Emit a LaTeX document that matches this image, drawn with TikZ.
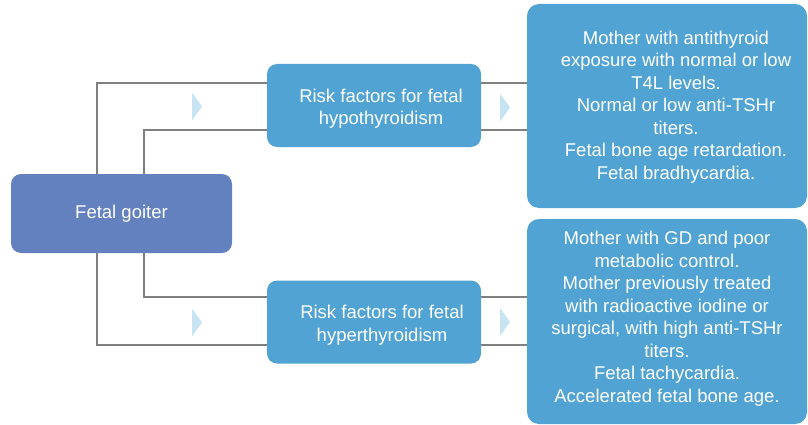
\documentclass[tikz,border=0pt]{standalone}
\usepackage{fontspec}
\setmainfont{Liberation Sans}
\usetikzlibrary{positioning,backgrounds}
\definecolor{goiterblue}{HTML}{6381BE}
\definecolor{riskblue}{HTML}{50A3D2}
\definecolor{markerblue}{HTML}{C7E4F3}
\definecolor{linkgray}{HTML}{808080}

\begin{document}
\begin{tikzpicture}[x=1pt, y=-1pt,
        goiternode/.style={rectangle, rounded corners=10pt, fill=goiterblue, text=white, minimum width=221pt, minimum height=79pt, inner sep=0pt, font=\fontsize{18.5}{22.5}\selectfont},
        risknode/.style={rectangle, rounded corners=10pt, fill=riskblue, minimum width=214pt, minimum height=83pt, inner sep=0pt},
        signnode/.style={rectangle, rounded corners=12pt, fill=riskblue, minimum width=280pt, minimum height=204pt, inner sep=0pt},
        boxtext/.style={text=white, align=center, font=\fontsize{18.5}{22.5}\selectfont, inner sep=0pt},
        link/.style={draw=linkgray, line width=2pt},
        marker/.style={fill=markerblue},
]
        \useasboundingbox (0,0) rectangle (808,425);

        \node[goiternode] (goiter) at (121.5,213.5) {Fetal goiter};
        \node[risknode] (hypo) at (374,105.5) {};
        \node[risknode] (hyper) at (374,322) {};
        \node[signnode] (hyposigns) at (667,106) {};
        \node[signnode, minimum height=205pt] (hypersigns) at (667,321.5) {};

        \node[boxtext] (hypotext) at ([xshift=7pt, yshift=-3pt]hypo.center) {Risk factors for fetal\\hypothyroidism};
        \node[boxtext] (hypertext) at ([xshift=8pt, yshift=-3pt]hyper.center) {Risk factors for fetal\\hyperthyroidism};
        \node[boxtext] (hyposignstext) at ([xshift=9pt, yshift=-1pt]hyposigns.center) {Mother with antithyroid\\exposure with normal or low\\T4L levels.\\Normal or low anti-TSHr\\titers.\\Fetal bone age retardation.\\Fetal bradhycardia.};
        \node[boxtext] (hypersignstext) at ([yshift=3pt]hypersigns.center) {Mother with GD and poor\\metabolic control.\\Mother previously treated\\with radioactive iodine or\\surgical, with high anti-TSHr\\titers.\\Fetal tachycardia.\\Accelerated fetal bone age.};

        \coordinate (outerup) at (97,83);
        \coordinate (innerup) at (144,130);
        \coordinate (innerdown) at (144,297);
        \coordinate (outerdown) at (97,345);

        \begin{scope}[on background layer]
        \draw[link] (goiter.north -| outerup) |- (hyposigns.west |- outerup);
        \draw[link] (goiter.north -| innerup) |- (hyposigns.west |- innerup);
        \draw[link] (goiter.south -| innerdown) |- (hypersigns.west |- innerdown);
        \draw[link] (goiter.south -| outerdown) |- (hypersigns.west |- outerdown);
        \end{scope}

        % light blue markers between the connectors
        \foreach \mx/\my in {192/106.5, 192/322.5, 500/107.5, 500/322}
                \fill[marker] (\mx,\my-14) -- (\mx+10,\my) -- (\mx,\my+14) -- cycle;
\end{tikzpicture}
\end{document}
